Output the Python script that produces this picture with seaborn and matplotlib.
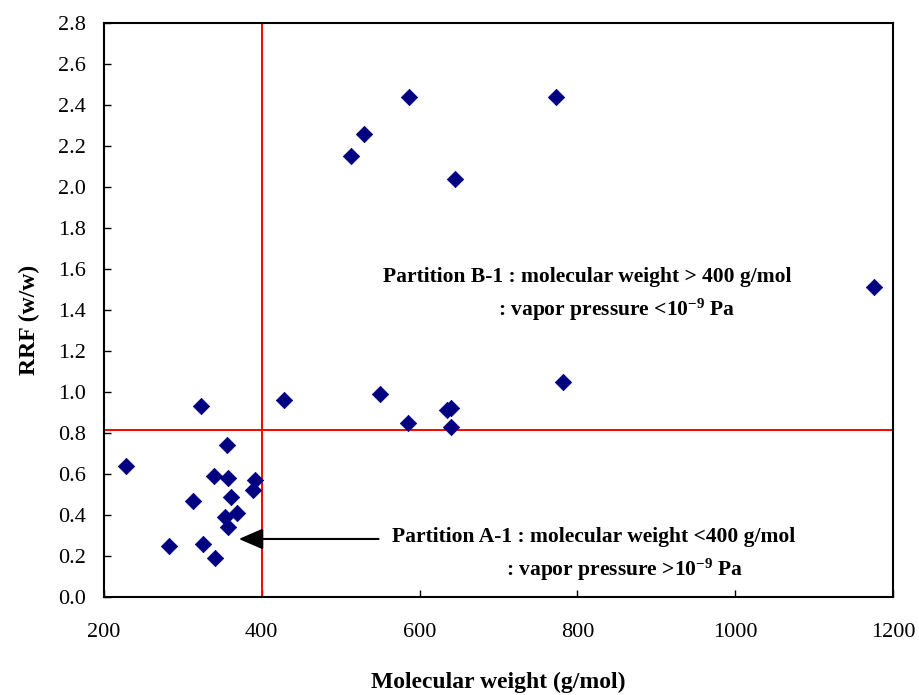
import matplotlib
matplotlib.use("Agg")
import matplotlib.pyplot as plt
import seaborn as sns
import pandas as pd

# Data
mol_weight = [228, 283, 313, 323, 325, 339, 341, 353, 356, 357, 357, 361, 369, 389, 392,
              428, 513, 530, 550, 585, 587, 635, 640, 640, 645, 773, 782, 1176]
rrf = [0.64, 0.25, 0.47, 0.93, 0.26, 0.59, 0.19, 0.39, 0.74, 0.58, 0.34, 0.49, 0.41, 0.52, 0.57,
       0.96, 2.15, 2.26, 0.99, 0.85, 2.44, 0.91, 0.92, 0.83, 2.04, 2.44, 1.05, 1.51]
mw_cut = 400
rrf_cut = 0.815
x_ticks = [200, 400, 600, 800, 1000, 1200]
y_ticks = [round(0.2 * i, 1) for i in range(15)]

sns.set_style("ticks")
plt.rcParams['font.family'] = ['Liberation Serif', 'DejaVu Serif']
plt.rcParams['mathtext.fontset'] = 'custom'
plt.rcParams['mathtext.rm'] = 'Liberation Serif'
plt.rcParams['mathtext.bf'] = 'Liberation Serif:bold'
plt.rcParams['text.color'] = 'black'
plt.rcParams['axes.labelcolor'] = 'black'

df = pd.DataFrame({"mw": mol_weight, "rrf": rrf})

fig = plt.figure(figsize=(9.19, 6.95), dpi=100)
ax = fig.add_axes([0.113, 0.141, 0.859, 0.826])

sns.scatterplot(data=df, x="mw", y="rrf", marker="D", s=70, color="#000080",
                edgecolor="#000080", linewidth=0.5, ax=ax, zorder=3)

ax.axvline(mw_cut, color="red", lw=1.4, zorder=2)
ax.axhline(rrf_cut, color="red", lw=1.4, zorder=2)

ax.set_xlim(200, 1200)
ax.set_ylim(0, 2.8)
ax.set_xticks(x_ticks)
ax.set_yticks(y_ticks)
ax.set_yticklabels([f"{v:.1f}" for v in y_ticks])
ax.tick_params(direction="in", length=5, width=1, labelsize=16, colors="black")
ax.tick_params(axis="y", pad=13)
ax.tick_params(axis="x", pad=19)
for sp in ax.spines.values():
    sp.set_visible(True)
    sp.set_linewidth(1.5)
    sp.set_color("black")

ax.set_xlabel("Molecular weight (g/mol)", fontsize=17, fontweight="bold", labelpad=21,
              color="black")
ax.set_ylabel("RRF (w/w)", fontsize=17, fontweight="bold", labelpad=13, color="black")
ax.yaxis.label.set_y(0.483)

fs = 15.5
ax.text(554, 1.56, "Partition B-1 : molecular weight > 400 g/mol", fontsize=fs,
        fontweight="bold", ha="left", va="center", color="black")
ax.text(699, 1.40, r": vapor pressure <$\mathbf{10^{-9}}$ Pa", fontsize=fs,
        fontweight="bold", ha="left", va="center", color="black")
ax.text(565, 0.293, "Partition A-1 : molecular weight <400 g/mol", fontsize=fs,
        fontweight="bold", ha="left", va="center", color="black")
ax.text(709, 0.132, r": vapor pressure >$\mathbf{10^{-9}}$ Pa", fontsize=fs,
        fontweight="bold", ha="left", va="center", color="black")

ax.annotate("", xy=(371, 0.283), xytext=(548, 0.283),
            arrowprops=dict(arrowstyle="-|>,head_length=1.5,head_width=0.65",
                            color="black", lw=1.5, shrinkA=0, shrinkB=0))

fig.savefig("out.png", dpi=100)
